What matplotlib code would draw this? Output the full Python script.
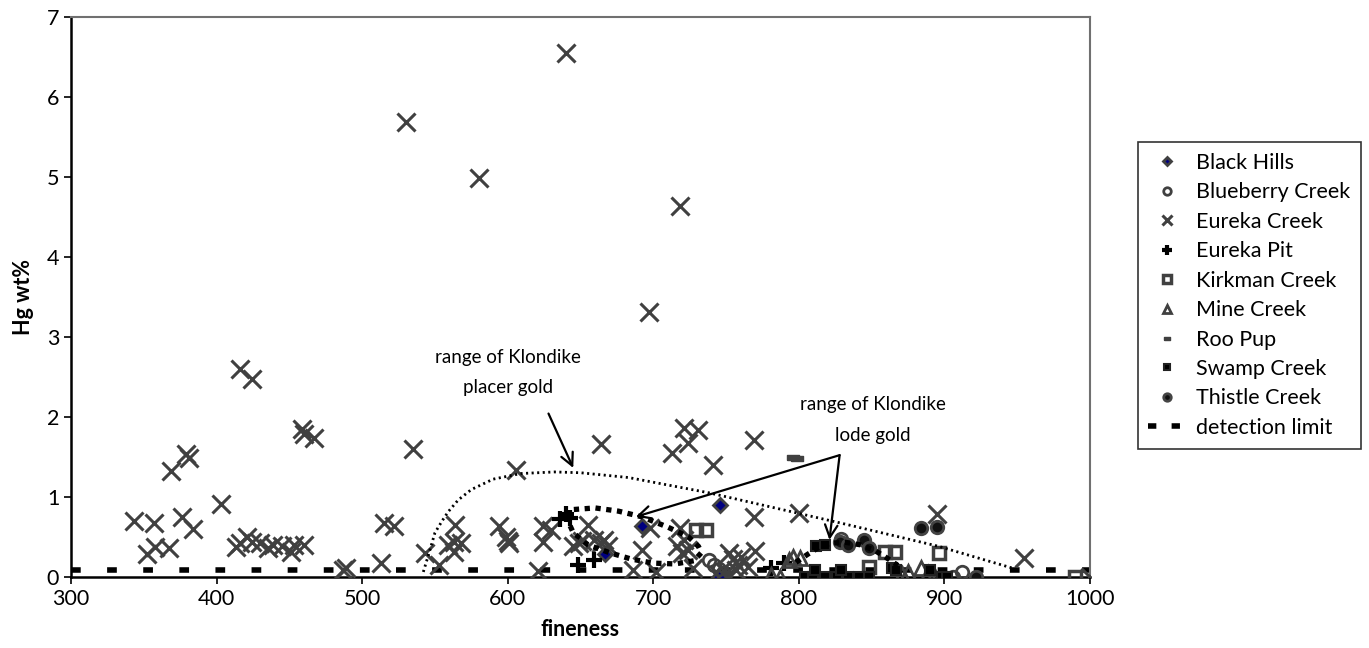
import matplotlib
matplotlib.use('Agg')
import matplotlib.pyplot as plt
from matplotlib.lines import Line2D

plt.rcParams['font.family'] = ['Lato', 'DejaVu Sans']
plt.rcParams['lines.scale_dashes'] = False

# fineness / Hg wt%
black_hills_x = [746, 692, 667, 745]
black_hills_y = [0.90, 0.63, 0.29, 0.00]

blueberry_x = [738, 742, 745, 748, 829, 906, 912]
blueberry_y = [0.21, 0.15, 0.10, 0.05, 0.47, 0.00, 0.06]

eureka_x = [640, 530, 580, 718, 697,
            416, 424, 459, 460, 467, 379, 381, 369, 403, 343, 357, 376, 384, 352, 358, 367,
            413, 416, 421, 424, 430, 435, 439, 445, 451, 453, 460,
            535, 515, 522, 513, 489, 487, 543, 553, 564, 559, 563, 568, 563,
            606, 594, 599, 600, 601, 624, 624, 630, 621,
            664, 721, 731, 724, 713, 741, 769,
            698, 769, 770, 718, 721, 716, 720, 724, 727,
            655, 649, 651, 659, 664, 666, 669, 645,
            692, 686, 702, 752, 755, 758, 760, 750, 757, 745,
            800, 765, 895, 955, 1000]
eureka_y = [6.55, 5.68, 4.98, 4.63, 3.31,
            2.60, 2.47, 1.85, 1.78, 1.73, 1.54, 1.49, 1.32, 0.91, 0.70, 0.67, 0.75, 0.60, 0.29, 0.37, 0.36,
            0.37, 0.42, 0.50, 0.44, 0.42, 0.36, 0.40, 0.38, 0.31, 0.40, 0.40,
            1.60, 0.67, 0.64, 0.17, 0.11, 0.08, 0.30, 0.15, 0.65, 0.40, 0.44, 0.42, 0.31,
            1.34, 0.64, 0.50, 0.45, 0.42, 0.64, 0.44, 0.59, 0.07,
            1.66, 1.86, 1.84, 1.67, 1.55, 1.40, 1.71,
            0.61, 0.75, 0.32, 0.61, 0.46, 0.38, 0.30, 0.34, 0.11,
            0.65, 0.42, 0.45, 0.46, 0.42, 0.46, 0.38, 0.38,
            0.34, 0.09, 0.06, 0.30, 0.22, 0.15, 0.25, 0.05, 0.08, 0.02,
            0.80, 0.12, 0.78, 0.24, 0.00]

pit_x = [636, 640, 643, 648, 659, 781, 790]
pit_y = [0.72, 0.78, 0.74, 0.15, 0.21, 0.11, 0.17]

kirkman_x = [729, 736, 859, 866, 896, 848, 990]
kirkman_y = [0.59, 0.59, 0.31, 0.31, 0.30, 0.12, 0.00]

mine_x = [781, 787, 793, 796, 801, 871, 875, 884, 889, 893]
mine_y = [0.02, 0.00, 0.21, 0.25, 0.24, 0.03, 0.06, 0.11, 0.05, 0.02]

roo_x = [796, 799]
roo_y = [1.50, 1.48]

swamp_x = [804, 810, 818, 826, 834, 841, 848, 811, 829, 812, 818, 864, 867, 890, 898, 902]
swamp_y = [0.00, 0.00, 0.00, 0.00, 0.00, 0.00, 0.00, 0.09, 0.09, 0.38, 0.40, 0.11, 0.09, 0.09, 0.00, 0.00]

thistle_x = [884, 895, 828, 834, 845, 848, 922]
thistle_y = [0.61, 0.62, 0.44, 0.40, 0.46, 0.36, 0.00]

detection_limit = 0.09

placer_x = [542, 546, 550, 555, 559, 566, 575, 590, 609, 632, 650, 683, 738, 774, 829, 896, 950]
placer_y = [0.06, 0.30, 0.55, 0.70, 0.81, 0.96, 1.09, 1.22, 1.29, 1.31, 1.30, 1.24, 1.05, 0.90, 0.67, 0.38, 0.09]

lode1_x = [640, 645, 660, 676, 692, 710, 724, 731, 733, 728, 715, 700, 685, 670, 655, 645, 640]
lode1_y = [0.75, 0.84, 0.86, 0.82, 0.75, 0.62, 0.50, 0.38, 0.30, 0.20, 0.16, 0.17, 0.22, 0.30, 0.40, 0.55, 0.75]

lode2_x = [798, 806, 814, 822, 832, 842, 852, 860, 868]
lode2_y = [0.18, 0.28, 0.37, 0.42, 0.43, 0.40, 0.33, 0.24, 0.14]

gray = '#404040'

fig = plt.figure(figsize=(13.69, 6.48), dpi=100)
ax = fig.add_axes([0.0519, 0.110, 0.7443, 0.864])

ax.plot([300, 1000], [detection_limit, detection_limit], color='black', lw=4,
        linestyle=(0, (7, 19)), zorder=2, dash_capstyle='butt')

ax.plot(eureka_x, eureka_y, 'x', ms=12.5, mew=2.2, color=gray, label='Eureka Creek', zorder=3)
ax.plot(black_hills_x, black_hills_y, 'D', ms=7, mfc='#000080', mec=gray, mew=2,
        label='Black Hills', zorder=4)
ax.plot(blueberry_x, blueberry_y, 'o', ms=9, mfc='none', mec=gray, mew=2,
        label='Blueberry Creek', zorder=4)
ax.plot(pit_x, pit_y, '+', ms=12, mew=3, color='black', label='Eureka Pit', zorder=4)
ax.plot(kirkman_x, kirkman_y, 's', ms=9, mfc='none', mec=gray, mew=2.5,
        label='Kirkman Creek', zorder=4)
ax.plot(mine_x, mine_y, '^', ms=10, mfc='none', mec=gray, mew=2, label='Mine Creek', zorder=4)
roo_marker = [(-1, -0.45), (1, -0.45), (1, 0.45), (-1, 0.45), (-1, -0.45)]
ax.plot(roo_x, roo_y, marker=roo_marker, ls='none', ms=8, color=gray, label='Roo Pup', zorder=4)
ax.plot(swamp_x, swamp_y, 's', ms=6.5, mfc='black', mec='#222222', mew=1.5,
        label='Swamp Creek', zorder=4)
ax.plot(thistle_x, thistle_y, 'o', ms=9, mfc='#111111', mec='#444444', mew=2,
        label='Thistle Creek', zorder=4)

ax.plot(placer_x, placer_y, color='black', lw=2, linestyle=(0, (1.5, 2.5)), zorder=5)
ax.plot(lode1_x, lode1_y, color='black', lw=3.8, linestyle=(0, (3.8, 4)), zorder=5)
ax.plot(lode2_x, lode2_y, color='black', lw=3.8, linestyle=(0, (3.8, 4)), zorder=5)

arrow = dict(arrowstyle='->,head_length=0.9,head_width=0.45', color='black', lw=1.6,
             shrinkA=0, shrinkB=0)
ax.text(600, 2.74, 'range of Klondike', ha='center', va='center', fontsize=13.5)
ax.text(600, 2.36, 'placer gold', ha='center', va='center', fontsize=13.5)
ax.annotate('', xy=(645, 1.36), xytext=(628, 2.04), arrowprops=arrow)

ax.text(851, 2.15, 'range of Klondike', ha='center', va='center', fontsize=13.5)
ax.text(851, 1.76, 'lode gold', ha='center', va='center', fontsize=13.5)
ax.annotate('', xy=(688, 0.75), xytext=(828, 1.52), arrowprops=arrow)
ax.annotate('', xy=(821, 0.46), xytext=(828, 1.52), arrowprops=arrow)

ax.set_xlim(300, 1000)
ax.set_ylim(0, 7)
ax.set_xticks(range(300, 1001, 100))
ax.set_yticks(range(0, 8))
ax.tick_params(labelsize=15.5, direction='out', length=5, width=1.2, colors='black')
ax.spines['left'].set_linewidth(1.8)
ax.spines['bottom'].set_linewidth(1.8)
ax.spines['top'].set_color('#707070')
ax.spines['right'].set_color('#707070')
ax.spines['top'].set_linewidth(1.5)
ax.spines['right'].set_linewidth(1.5)

ax.set_xlabel('fineness', fontsize=15.5, fontweight='bold')
ax.set_ylabel('Hg wt%', fontsize=15.5, fontweight='bold')
ax.xaxis.set_label_coords(0.5, -0.076)
ax.yaxis.set_label_coords(-0.036, 0.5)

order = ['Black Hills', 'Blueberry Creek', 'Eureka Creek', 'Eureka Pit', 'Kirkman Creek',
         'Mine Creek', 'Roo Pup', 'Swamp Creek', 'Thistle Creek']
handles, labels = ax.get_legend_handles_labels()
hmap = dict(zip(labels, handles))
det_handle = Line2D([], [], color='black', lw=4, linestyle=(0, (6, 11)), dash_capstyle='butt')
leg = fig.legend([hmap[k] for k in order] + [det_handle], order + ['detection limit'],
                 loc='upper left', bbox_to_anchor=(0.831, 0.781), fontsize=15.5, frameon=True,
                 fancybox=False, edgecolor='black', markerscale=0.6, handlelength=1.7,
                 handletextpad=0.5, labelspacing=0.44, borderpad=0.5, borderaxespad=0)
leg.get_frame().set_linewidth(1.2)

fig.savefig('out.png', dpi=100)
